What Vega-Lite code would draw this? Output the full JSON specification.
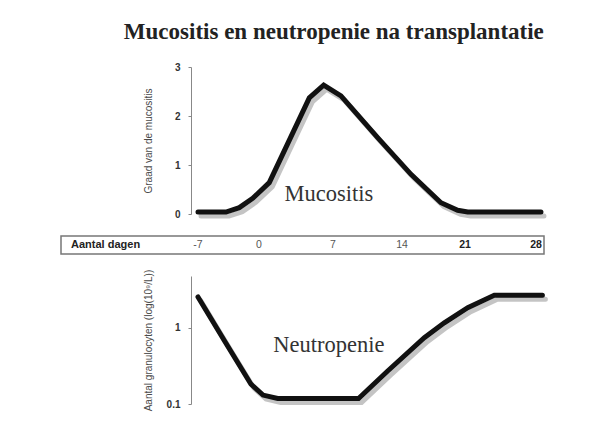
{
  "$schema": "https://vega.github.io/schema/vega-lite/v6.json",
  "padding": {"left": 60, "top": 21, "right": 10, "bottom": 5},
  "background": "white",
  "title": {"text": "Mucositis en neutropenie na transplantatie", "font": "Liberation Serif", "fontSize": 23, "fontWeight": "bold", "color": "#222", "anchor": "middle", "dx": 26, "offset": 18},
  "config": {
    "view": {"stroke": null},
    "axis": {"grid": false, "domainColor": "#888", "tickColor": "#888", "tickSize": 3, "labelFont": "Liberation Sans", "labelFontWeight": "bold", "labelFontSize": 10, "labelColor": "#333", "labelPadding": 8, "titleFont": "Liberation Sans", "titleFontSize": 10, "titleFontWeight": "normal", "titleColor": "#4a4a4a", "titleX": -43, "titleBaseline": "middle"}
  },
  "datasets": {
    "mucositis": [
      {"day": -7.0, "grade": 0.04},
      {"day": -3.79, "grade": 0.04},
      {"day": -2.26, "grade": 0.13},
      {"day": -0.72, "grade": 0.32},
      {"day": 0.97, "grade": 0.64},
      {"day": 4.76, "grade": 2.37},
      {"day": 6.12, "grade": 2.63},
      {"day": 7.81, "grade": 2.41},
      {"day": 11.53, "grade": 1.56},
      {"day": 15.0, "grade": 0.81},
      {"day": 18.33, "grade": 0.23},
      {"day": 20.19, "grade": 0.075},
      {"day": 21.27, "grade": 0.04},
      {"day": 28.62, "grade": 0.04}
    ],
    "neutropenie": [
      {"day": -7.0, "count": 2.56},
      {"day": -4.02, "count": 0.695},
      {"day": -0.92, "count": 0.182},
      {"day": 0.38, "count": 0.131},
      {"day": 1.77, "count": 0.118},
      {"day": 9.59, "count": 0.118},
      {"day": 12.55, "count": 0.272},
      {"day": 16.48, "count": 0.745},
      {"day": 18.7, "count": 1.17},
      {"day": 21.27, "count": 1.85},
      {"day": 23.89, "count": 2.69},
      {"day": 28.8, "count": 2.69}
    ],
    "dagen": [
      {"day": -7, "label": "-7"},
      {"day": 0, "label": "0"},
      {"day": 7, "label": "7"},
      {"day": 14, "label": "14"},
      {"day": 21, "label": "21"},
      {"day": 28, "label": "28"}
    ]
  },
  "bounds": "flush",
  "spacing": 22,
  "vconcat": [
    {
      "width": 483,
      "height": 147,
      "data": {"name": "mucositis"},
      "encoding": {
        "x": {"field": "day", "type": "quantitative", "axis": null, "scale": {"domain": [-22, -7, 0, 7, 14, 21, 28, 29], "range": [0, 137, 198, 272, 341, 404, 475, 483], "nice": false, "zero": false}},
        "y": {"field": "grade", "type": "quantitative", "scale": {"domain": [0, 3], "nice": false}, "axis": {"values": [0, 1, 2, 3], "title": "Graad van de mucositis", "offset": -130}}
      },
      "layer": [
        {"mark": {"type": "line", "color": "#b0b0b0", "strokeWidth": 5, "xOffset": 3, "yOffset": 4, "strokeCap": "round", "opacity": 0.75}},
        {"mark": {"type": "line", "color": "#111", "strokeWidth": 5, "strokeCap": "round"}},
        {
          "data": {"values": [{"day": 6.62, "grade": 0.41, "label": "Mucositis"}]},
          "mark": {"type": "text", "font": "Liberation Serif", "fontSize": 22.5, "color": "#333", "baseline": "middle"},
          "encoding": {"text": {"field": "label"}}
        }
      ]
    },
    {
      "width": 483,
      "height": 18,
      "view": {"stroke": "#777", "strokeWidth": 1.5},
      "encoding": {
        "x": {"field": "day", "type": "quantitative", "axis": null, "scale": {"domain": [-22, -7, 0, 7, 14, 21, 28, 29], "range": [0, 137, 198, 272, 341, 404, 475, 483], "nice": false, "zero": false}}
      },
      "layer": [
        {
          "data": {"values": [{"day": -20.9, "label": "Aantal dagen"}]},
          "mark": {"type": "text", "font": "Liberation Sans", "fontSize": 11, "fontWeight": "bold", "color": "#222", "align": "left", "baseline": "middle"},
          "encoding": {"text": {"field": "label"}}
        },
        {
          "data": {"name": "dagen"},
          "transform": [{"filter": "datum.day < 21"}],
          "mark": {"type": "text", "font": "Liberation Sans", "fontSize": 10.5, "color": "#555", "baseline": "middle"},
          "encoding": {"text": {"field": "label"}}
        },
        {
          "data": {"name": "dagen"},
          "transform": [{"filter": "datum.day >= 21"}],
          "mark": {"type": "text", "font": "Liberation Sans", "fontSize": 10.5, "fontWeight": "bold", "color": "#222", "baseline": "middle"},
          "encoding": {"text": {"field": "label"}}
        }
      ]
    },
    {
      "width": 483,
      "height": 128,
      "data": {"name": "neutropenie"},
      "encoding": {
        "x": {"field": "day", "type": "quantitative", "axis": null, "scale": {"domain": [-22, -7, 0, 7, 14, 21, 28, 29], "range": [0, 137, 198, 272, 341, 404, 475, 483], "nice": false, "zero": false}},
        "y": {"field": "count", "type": "quantitative", "scale": {"type": "log", "domain": [0.1, 4.83], "nice": false}, "axis": {"values": [0.1, 1], "format": "~g", "title": "Aantal granulocyten (log(10⁹/L))", "offset": -130}}
      },
      "layer": [
        {"mark": {"type": "line", "color": "#b0b0b0", "strokeWidth": 5, "xOffset": 3, "yOffset": 4, "strokeCap": "round", "opacity": 0.75}},
        {"mark": {"type": "line", "color": "#111", "strokeWidth": 5, "strokeCap": "round"}},
        {
          "data": {"values": [{"day": 6.62, "count": 0.6, "label": "Neutropenie"}]},
          "mark": {"type": "text", "font": "Liberation Serif", "fontSize": 22.5, "color": "#333", "baseline": "middle"},
          "encoding": {"text": {"field": "label"}}
        }
      ]
    }
  ]
}
